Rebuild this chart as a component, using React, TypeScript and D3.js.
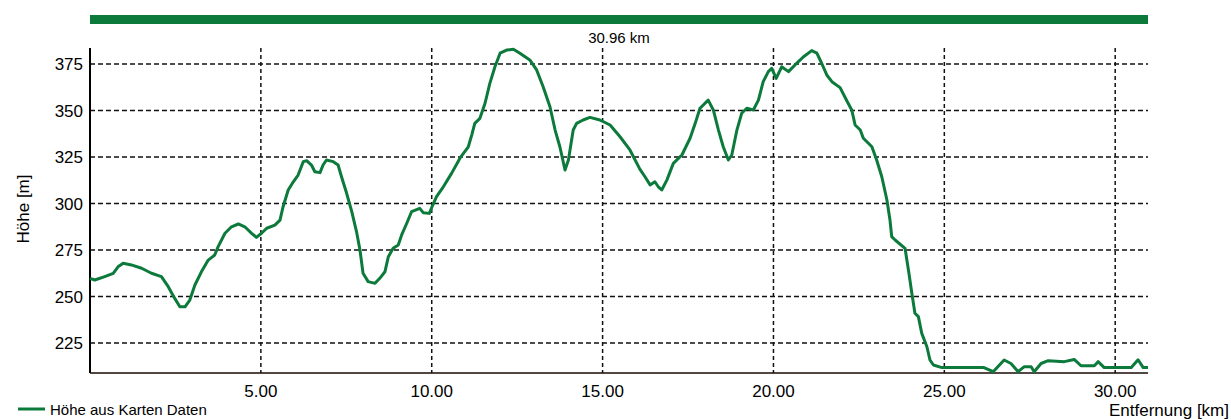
import { useEffect, useRef } from "react";
import * as d3 from "d3";

// distance along route (km)
const distances = [
  0.0, 0.14, 0.43, 0.68, 0.82, 0.97, 1.21, 1.51, 1.8, 2.09, 2.29, 2.48, 2.63, 2.78, 2.92, 3.07,
  3.26, 3.46, 3.65, 3.75, 3.95, 4.14, 4.34, 4.53, 4.73, 4.87, 5.02, 5.17, 5.41, 5.56, 5.65, 5.8,
  5.95, 6.09, 6.24, 6.34, 6.48, 6.58, 6.73, 6.82, 6.92, 7.12, 7.26, 7.36, 7.51, 7.66, 7.8, 7.9,
  7.99, 8.14, 8.34, 8.48, 8.63, 8.73, 8.87, 9.02, 9.12, 9.27, 9.41, 9.65, 9.75, 9.93, 10.03,
  10.14, 10.34, 10.58, 10.83, 11.07, 11.17, 11.26, 11.41, 11.56, 11.7, 11.85, 12.0, 12.19,
  12.39, 12.58, 12.87, 13.07, 13.26, 13.46, 13.61, 13.75, 13.9, 14.0, 14.14, 14.24, 14.43,
  14.63, 14.92, 15.22, 15.51, 15.8, 16.09, 16.24, 16.39, 16.53, 16.63, 16.73, 16.88, 17.07,
  17.32, 17.56, 17.71, 17.85, 18.09, 18.24, 18.39, 18.53, 18.68, 18.78, 18.93, 19.07, 19.22,
  19.41, 19.56, 19.7, 19.85, 19.95, 20.08, 20.24, 20.44, 20.63, 20.88, 21.12, 21.27, 21.41,
  21.56, 21.71, 21.95, 22.15, 22.29, 22.39, 22.54, 22.63, 22.88, 23.02, 23.17, 23.32, 23.41,
  23.46, 23.56, 23.85, 23.95, 24.05, 24.14, 24.24, 24.34, 24.49, 24.58, 24.68, 24.93, 26.16,
  26.43, 26.75, 26.95, 27.16, 27.34, 27.54, 27.63, 27.83, 28.04, 28.51, 28.8, 29.0, 29.39,
  29.5, 29.68, 30.47, 30.67, 30.82, 30.96
];

// elevation (m)
const elevations = [
  259.8, 258.9, 260.7, 262.5, 266.0, 267.9, 267.0, 265.2, 262.5, 260.7, 255.3, 249.0, 244.5, 244.5, 248.1, 256.2,
  263.3, 269.6, 272.3, 276.8, 284.0, 287.5, 289.0, 287.5, 284.0, 281.8, 284.0, 286.7, 288.4, 291.1, 298.3, 307.3,
  311.7, 315.3, 322.5, 323.0, 320.7, 317.1, 316.6, 320.7, 323.4, 322.5, 320.7, 314.4, 305.5, 295.6, 284.8, 275.0,
  262.5, 258.0, 257.1, 259.8, 263.3, 271.4, 275.9, 277.7, 283.1, 289.4, 295.6, 297.4, 295.1, 294.7, 299.2,
  303.7, 309.0, 316.2, 324.5, 330.5, 336.8, 343.1, 345.8, 353.9, 364.6, 373.5, 380.8, 382.5,
  382.9, 380.8, 377.2, 371.8, 362.8, 352.0, 339.5, 330.5, 318.0, 323.4, 339.5, 343.1, 344.9,
  346.3, 344.9, 342.2, 335.9, 328.8, 318.5, 314.4, 310.0, 311.7, 309.0, 307.3, 312.6, 321.6,
  326.1, 335.1, 343.1, 351.2, 355.6, 350.3, 339.5, 330.5, 323.4, 326.1, 339.5, 348.5, 351.2,
  350.3, 355.6, 365.5, 370.9, 372.7, 367.3, 373.5, 370.9, 374.5, 378.9, 382.2, 380.8, 375.4,
  369.1, 365.5, 362.3, 355.1, 350.3, 342.2, 339.5, 335.1, 330.5, 323.4, 314.4, 301.9, 291.1,
  282.2, 280.4, 275.9, 264.3, 251.7, 241.0, 239.2, 230.2, 223.0, 215.9, 213.2, 211.8, 211.8,
  209.6, 215.9, 214.0, 209.6, 212.3, 212.3, 209.6, 214.0, 215.5, 215.0, 216.2, 212.8, 212.8,
  215.0, 211.8, 211.8, 216.0, 211.8, 211.8
];

const yTicks = [225, 250, 275, 300, 325, 350, 375];
const xTicks = [5, 10, 15, 20, 25, 30];
const totalLabel = "30.96 km";
const seriesName = "Höhe aus Karten Daten";

const App = () => {
  const svgRef = useRef<SVGSVGElement>(null);

  useEffect(() => {
    const svg = d3.select(svgRef.current);
    svg.selectAll("*").remove();

    const W = 1231;
    const H = 419;
    const left = 90;
    const right = 1148;
    const top = 48;
    const bottom = 373;
    const green = "#0b7a3b";
    const font = "'Liberation Sans', Arial, sans-serif";

    svg.attr("width", W).attr("height", H);
    svg.append("rect").attr("width", W).attr("height", H).attr("fill", "#fff");

    const x = d3.scaleLinear().domain([0, 30.96]).range([left, right]);
    const y = d3.scaleLinear().domain([208.9, 383.6]).range([bottom, top]);

    // distance bar on top
    svg.append("rect")
      .attr("x", x(0))
      .attr("y", 15)
      .attr("width", x(30.96) - x(0))
      .attr("height", 9)
      .attr("fill", green);

    svg.append("text")
      .attr("x", (x(0) + x(30.96)) / 2)
      .attr("y", 43)
      .attr("text-anchor", "middle")
      .style("font-family", font)
      .style("font-size", "15px")
      .text(totalLabel);

    // grid
    svg.append("g")
      .selectAll("line")
      .data(yTicks)
      .enter()
      .append("line")
      .attr("x1", left)
      .attr("x2", right)
      .attr("y1", (d) => y(d))
      .attr("y2", (d) => y(d))
      .attr("stroke", "#111")
      .attr("stroke-width", 1.5)
      .attr("stroke-dasharray", "5,3");

    svg.append("g")
      .selectAll("line")
      .data(xTicks)
      .enter()
      .append("line")
      .attr("x1", (d) => x(d))
      .attr("x2", (d) => x(d))
      .attr("y1", top)
      .attr("y2", bottom)
      .attr("stroke", "#111")
      .attr("stroke-width", 1.5)
      .attr("stroke-dasharray", "4,3");

    // axes
    svg.append("line")
      .attr("x1", left).attr("x2", left)
      .attr("y1", top).attr("y2", bottom)
      .attr("stroke", "#000").attr("stroke-width", 2);
    svg.append("line")
      .attr("x1", left).attr("x2", right)
      .attr("y1", bottom).attr("y2", bottom)
      .attr("stroke", "#1a0a05").attr("stroke-width", 1.5);

    // tick labels
    svg.append("g")
      .selectAll("text")
      .data(yTicks)
      .enter()
      .append("text")
      .attr("x", 83)
      .attr("y", (d) => y(d))
      .attr("dy", "0.36em")
      .attr("text-anchor", "end")
      .style("font-family", font)
      .style("font-size", "17px")
      .text((d) => d);

    svg.append("g")
      .selectAll("text")
      .data(xTicks)
      .enter()
      .append("text")
      .attr("x", (d) => x(d))
      .attr("y", 397)
      .attr("text-anchor", "middle")
      .style("font-family", font)
      .style("font-size", "17px")
      .text((d) => d3.format(".2f")(d));

    // axis titles
    svg.append("text")
      .attr("transform", "translate(29,209) rotate(-90)")
      .attr("text-anchor", "middle")
      .style("font-family", font)
      .style("font-size", "17px")
      .text("Höhe [m]");

    svg.append("text")
      .attr("x", 1229)
      .attr("y", 416)
      .attr("text-anchor", "end")
      .style("font-family", font)
      .style("font-size", "17px")
      .text("Entfernung [km]");

    // elevation profile
    const data = distances.map((d, i) => ({ km: d, m: elevations[i] }));
    const line = d3.line<{ km: number; m: number }>()
      .x((d) => x(d.km))
      .y((d) => y(d.m));

    svg.append("path")
      .datum(data)
      .attr("d", line)
      .attr("fill", "none")
      .attr("stroke", green)
      .attr("stroke-width", 3)
      .attr("stroke-linejoin", "round");

    // legend
    svg.append("line")
      .attr("x1", 18).attr("x2", 45)
      .attr("y1", 409).attr("y2", 409)
      .attr("stroke", green).attr("stroke-width", 3);
    svg.append("text")
      .attr("x", 50)
      .attr("y", 415)
      .style("font-family", font)
      .style("font-size", "15px")
      .text(seriesName);
  }, []);

  return (
    <svg ref={svgRef} style={{ position: "absolute", left: 0, top: 0, display: "block" }}></svg>
  );
};

export default App;
